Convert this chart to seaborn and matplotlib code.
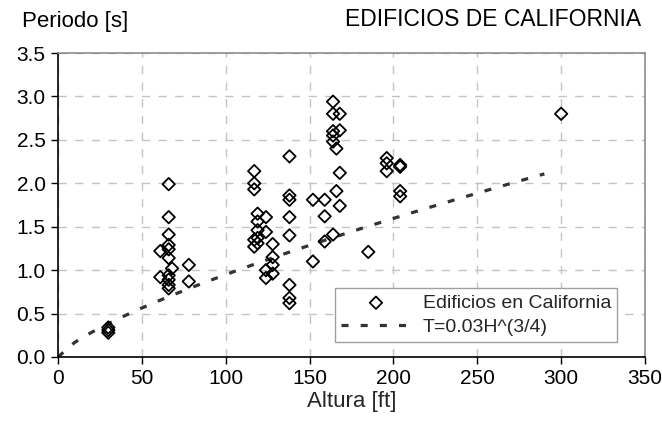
import matplotlib
matplotlib.use("Agg")
import matplotlib.pyplot as plt
import seaborn as sns

# Building heights [ft] and measured fundamental periods [s]
altura = [30, 30, 30,
          61, 61,
          66, 66, 66, 66, 66, 66, 66, 66, 66, 66,
          68,
          78, 78,
          117, 117, 117, 117, 117,
          119, 119, 119, 119, 119,
          124, 124, 124, 124,
          128, 128, 128, 128,
          138, 138, 138, 138, 138, 138, 138, 138,
          152, 152,
          159, 159, 159,
          164, 164, 164, 164, 164, 164,
          166, 166,
          168, 168, 168, 168,
          185,
          196, 196, 196,
          204, 204, 204, 204,
          300]
periodo = [0.28, 0.31, 0.34,
           1.22, 0.92,
           1.99, 1.61, 1.41, 1.29, 1.24, 1.14, 0.94, 0.89, 0.83, 0.79,
           1.02,
           1.06, 0.87,
           2.14, 2.00, 1.93, 1.35, 1.27,
           1.65, 1.56, 1.46, 1.37, 1.31,
           1.61, 1.44, 1.00, 0.91,
           1.30, 1.15, 1.06, 0.96,
           2.31, 1.86, 1.81, 1.61, 1.40, 0.83, 0.68, 0.62,
           1.81, 1.10,
           1.81, 1.62, 1.33,
           2.94, 2.80, 2.60, 2.55, 2.48, 1.41,
           2.40, 1.91,
           2.80, 2.61, 2.12, 1.74,
           1.21,
           2.29, 2.23, 2.14,
           2.21, 2.19, 1.91, 1.85,
           2.80]

# Code formula T = 0.03 H^(3/4), evaluated at these heights
altura_norma = [0, 10, 20, 30, 40, 50, 60, 70, 80, 90, 100, 110, 120, 130, 140,
                150, 160, 170, 180, 190, 200, 210, 220, 230, 240, 250, 260,
                270, 280, 290]
periodo_norma = [0.03 * h ** 0.75 for h in altura_norma]

x_ticks = [0, 50, 100, 150, 200, 250, 300, 350]
y_ticks = [0.0, 0.5, 1.0, 1.5, 2.0, 2.5, 3.0, 3.5]

sns.set_theme(style="white")
plt.rcParams["font.family"] = ["Liberation Sans", "DejaVu Sans"]

W, H = 662, 425
fig = plt.figure(figsize=(W / 100, H / 100), dpi=100)
ax = fig.add_axes([58 / W, 1 - 357 / H, 587 / W, 304 / H])

sns.scatterplot(x=altura, y=periodo, marker="D", s=40,
                facecolor="none", edgecolor="black", linewidth=1.3,
                label="Edificios en California", ax=ax, zorder=3)
sns.lineplot(x=altura_norma, y=periodo_norma, color="#333333", linewidth=2.3,
             linestyle=(0, (2.2, 3.8)), label="T=0.03H^(3/4)", ax=ax,
             zorder=2)

ax.set_xlim(0, 350)
ax.set_ylim(0, 3.5)
ax.set_xticks(x_ticks)
ax.set_yticks(y_ticks)
ax.set_xticklabels([str(v) for v in x_ticks], fontsize=15)
ax.set_yticklabels([f"{v:.1f}" for v in y_ticks], fontsize=15)
ax.set_xlabel("Altura [ft]", fontsize=16, labelpad=2)
ax.set_ylabel("")

ax.grid(True, color="#c4c4c4", linestyle=(0, (6, 6)), linewidth=1.0)
ax.set_axisbelow(True)

for side in ("left", "bottom"):
    ax.spines[side].set_color("black")
    ax.spines[side].set_linewidth(1.2)
for side in ("top", "right"):
    ax.spines[side].set_color("#8c8c8c")
    ax.spines[side].set_linewidth(1.2)

ax.tick_params(axis="both", which="major", direction="out", length=5,
               width=1, color="black", bottom=True, left=True,
               top=False, right=False, pad=4, labelcolor="black")

leg = ax.legend(loc="lower right", bbox_to_anchor=(0.952, 0.049),
                fontsize=14, frameon=True, fancybox=False, framealpha=1,
                edgecolor="#a0a0a0", handlelength=3.6, borderpad=0.3,
                labelspacing=0.35, handletextpad=0.6, borderaxespad=0)
leg.get_frame().set_linewidth(1.0)

fig.text(22 / W, 1 - 22 / H, "Periodo [s]", ha="left", va="center",
         fontsize=16, color="black")
fig.text(641 / W, 1 - 20 / H, "EDIFICIOS DE CALIFORNIA", ha="right",
         va="center", fontsize=16.5, color="black")

fig.savefig("out.png", dpi=100)
